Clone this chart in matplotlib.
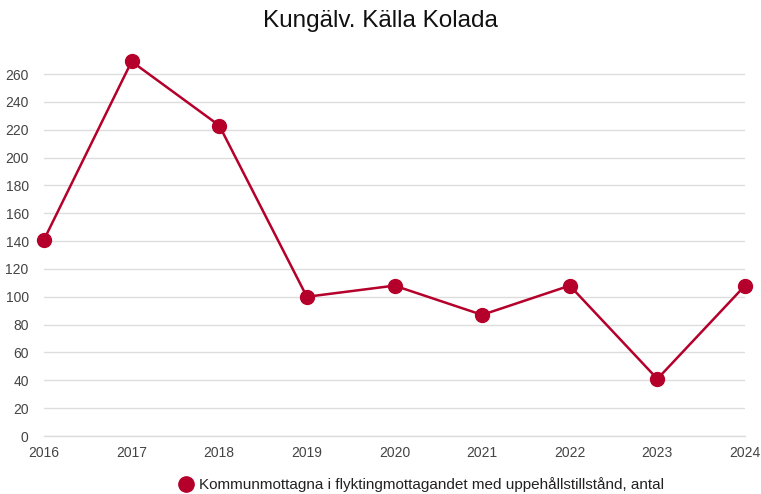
import matplotlib
matplotlib.use("Agg")
import matplotlib.pyplot as plt

years = [2016, 2017, 2018, 2019, 2020, 2021, 2022, 2023, 2024]
values = [141, 269, 223, 100, 108, 87, 108, 41, 108]
y_ticks = list(range(0, 261, 20))
series_name = "Kommunmottagna i flyktingmottagandet med uppehållstillstånd, antal"
title = "Kungälv. Källa Kolada"

red = "#b5002b"
plt.rcParams['font.family'] = ['Liberation Sans', 'DejaVu Sans']

W, H = 761, 494
fig = plt.figure(figsize=(W / 100, H / 100), dpi=100)
ymax = 270
px_per_unit = (436 - 74) / 260
top_px = 436 - ymax * px_per_unit
ax = fig.add_axes([44 / W, (H - 436) / H, (745 - 44) / W, (436 - top_px) / H])

ax.plot(years, values, color=red, lw=1.8, marker='o', markersize=10,
        clip_on=False, zorder=3, label=series_name)

ax.set_xlim(2016, 2024)
ax.set_ylim(0, ymax)
ax.set_xticks(years)
ax.set_yticks(y_ticks)
ax.grid(axis='y', color='#dddddd', lw=1)
ax.axhline(0, color='#dddddd', lw=1, clip_on=False, zorder=0)
ax.set_axisbelow(True)
for s in ax.spines.values():
    s.set_visible(False)
ax.tick_params(length=0, labelsize=10, colors='#444444')
ax.tick_params(axis='y', pad=11)
ax.tick_params(axis='x', pad=7)

fig.text(0.5, 1 - 21 / H, title, ha='center', va='center', fontsize=17.5, color='#111111')

leg = ax.legend(loc='center', bbox_to_anchor=(0.5 + 28 / 701, (436 - 485) / (436 - top_px)),
                frameon=False, fontsize=11, handlelength=0.7, handletextpad=0.5,
                markerscale=1.1, labelcolor='#222222')
for h in leg.legend_handles:
    h.set_linestyle('none')

fig.savefig('out.png', dpi=100)
